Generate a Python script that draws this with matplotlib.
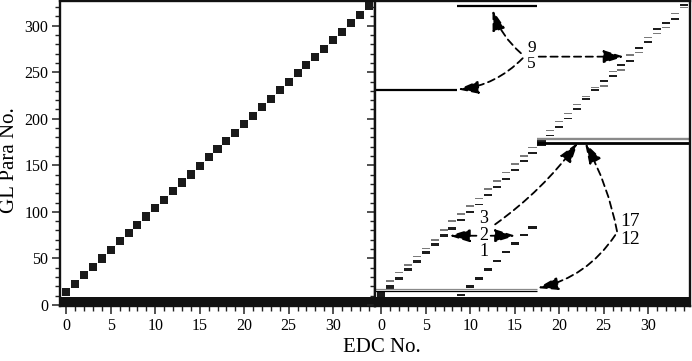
import matplotlib
matplotlib.use("Agg")
import matplotlib.pyplot as plt
from matplotlib.ticker import MultipleLocator
import numpy as np

plt.rcParams['font.family'] = ['Liberation Serif', 'DejaVu Serif']

# ---------------- data ----------------
edc_no = list(range(35))
# left panel: centre of each EDC's own GL-parameter block
left_block_centre = [13.5, 22.6, 31.9, 40.5, 49.8, 59.1, 68.4, 77.0, 85.6, 94.9,
                     104.2, 112.8, 122.1, 131.4, 140.0, 149.3, 158.6, 167.2, 176.5, 185.1,
                     194.4, 203.0, 212.3, 221.6, 230.9, 239.5, 248.8, 257.4, 266.7, 275.3,
                     284.6, 293.2, 302.5, 311.1, 321.2]
band_left = [0, 9]      # GL Para No. range used by every EDC (left)
band_right = [0, 8]     # same (right)

# right panel: staircase of paired parameters
stair_edc = [1, 2, 3, 4, 5, 6, 7, 8, 9, 10, 11, 12, 13, 14, 15, 16, 17,
             19, 20, 21, 22, 23, 24, 25, 26, 27, 28, 29, 30, 31, 32, 33, 34]
stair_dark = [19.2, 28.6, 37.6, 46.5, 56.2, 65.1, 74.9, 82.3, 91.3, 100.2, 107.8,
              117.6, 126.6, 135.6, 145.0, 154.2, 163.2,
              182.0, 191.5, 200.2, 210.5, 221.0, 231.0, 240.5, 246.0, 257.8, 262.0,
              275.7, 282.8, 296.0, 302.5, 307.0, 322.0]
stair_light = [25.8, 34.7, 43.0, 51.9, 60.5, 69.8, 80.6, 90.2, 97.6, 106.4, 114.6,
               124.3, 133.2, 142.5, 151.4, 160.0, 169.0,
               187.5, 197.0, 205.5, 215.0, 223.7, 233.5, 235.2, 250.6, 252.4, 268.5,
               271.4, 287.2, 291.5, 298.0, 313.0, 319.7]
# right panel: solid blocks
block_edc = [0, 18]
block_lo = [9.0, 171.0]
block_hi = [14.3, 179.0]
# right panel: series "1"
series1_edc = [9, 10, 11, 12, 13, 14, 15, 16, 17]
series1_para = [10.5, 19.5, 28.3, 38.0, 47.0, 56.8, 65.7, 75.0, 83.0]
# right panel: parameters shared by a range of EDCs
row_para = [15.0, 17.5, 174.0, 178.0, 230.5, 320.7]
row_first_edc = [0, 0, 18, 18, 0, 9]
row_last_edc = [17, 17, 34, 34, 8, 17]

y_ticks = [0, 50, 100, 150, 200, 250, 300]
x_ticks = [0, 5, 10, 15, 20, 25, 30]

# ---------------- style ----------------
row_colors = ['k', '#8a8a8a', 'k', '#8a8a8a', 'k', 'k']
row_lw = [0.9, 0.9, 2.0, 1.7, 1.6, 1.6]
XLIM = (-0.7, 34.7)
YLIM = (-1.2, 326.5)

W, H = 692, 361
fig = plt.figure(figsize=(W / 100, H / 100), dpi=100)
ax1 = fig.add_axes([60 / W, (H - 306) / H, 315 / W, 305 / H])
ax2 = fig.add_axes([375 / W, (H - 306) / H, 315 / W, 305 / H])

for ax in (ax1, ax2):
    ax.set_xlim(*XLIM)
    ax.set_ylim(*YLIM)
    ax.set_xticks(x_ticks)
    ax.set_yticks(y_ticks)
    ax.xaxis.set_minor_locator(MultipleLocator(1))
    ax.yaxis.set_minor_locator(MultipleLocator(10))
    ax.tick_params(which='major', direction='out', length=6, width=1.1,
                   labelsize=11.5, pad=2.5, color='#222')
    ax.tick_params(which='minor', direction='out', length=3.5, width=1.0, color='#222')
    for sp in ax.spines.values():
        sp.set_linewidth(1.7)
        sp.set_color('#111')
ax2.tick_params(axis='y', which='both', labelleft=False)

# ---- left panel ----
ax1.axhspan(band_left[0], band_left[1], color='#111', lw=0)
lc = np.array(left_block_centre)
ax1.bar(edc_no, 8.8, bottom=lc - 4.4, width=0.9, color='#1a1a1a', lw=0)

# ---- right panel ----
ax2.axhspan(band_right[0], band_right[1], color='#111', lw=0)
for y, s, e, c, lw in zip(row_para, row_first_edc, row_last_edc, row_colors, row_lw):
    x0 = s - 0.5 if s > 0 else s - 1.5
    x1 = e + 0.5 if e < 34 else e + 1.5
    ax2.hlines(y, x0, x1, colors=c, lw=lw)
bl = np.array(block_lo)
bh = np.array(block_hi)
ax2.bar(block_edc, bh - bl, bottom=bl, width=0.95, color='#1a1a1a', lw=0)
sx = np.array(stair_edc)
dark_h = np.where(sx <= 8, 3.4, 2.0)
ax2.bar(stair_edc, dark_h, bottom=np.array(stair_dark) - dark_h / 2, width=0.9,
        color='#1e1e1e', lw=0)
ax2.bar(stair_edc, 1.5, bottom=np.array(stair_light) - 0.75, width=0.9,
        color='#7a7a7a', lw=0)
ax2.bar(series1_edc, 2.8, bottom=np.array(series1_para) - 1.4, width=0.9,
        color='#1a1a1a', lw=0)


def darrow(start, tip, rad=0.0):
    ax2.annotate('', xy=tip, xytext=start,
                 arrowprops=dict(arrowstyle='-|>,head_length=0.9,head_width=0.28',
                                 mutation_scale=14, lw=1.3, ls=(0, (4, 2.5)),
                                 color='k', shrinkA=0, shrinkB=0,
                                 connectionstyle=f'arc3,rad={rad}'))


darrow((15.7, 270.4), (12.5, 317.0), -0.14)
darrow((15.9, 265.0), (8.6, 231.5), -0.18)
darrow((17.7, 266.7), (27.3, 266.7))
darrow((10.7, 74.3), (7.65, 74.3))
darrow((12.3, 74.3), (15.1, 74.3))
darrow((12.8, 86.5), (22.1, 174.5), 0.08)
darrow((26.5, 79.0), (22.9, 174.0), 0.08)
darrow((26.3, 75.0), (17.55, 18.0), -0.2)

tk = dict(ha='center', va='center', color='k')
ax2.text(16.9, 275.5, '9', fontsize=12.5, **tk)
ax2.text(16.9, 259.0, '5', fontsize=12.5, **tk)
ax2.text(11.5, 92.6, '3', fontsize=13, **tk)
ax2.text(11.5, 74.3, '2', fontsize=13, **tk)
ax2.text(11.5, 57.3, '1', fontsize=13, **tk)
ax2.text(28.0, 89.5, '17', fontsize=14, **tk)
ax2.text(28.0, 70.7, '12', fontsize=14, **tk)

fig.text(381.7 / W, 1 - 348 / H, 'EDC No.', fontsize=15, ha='center', va='center')
fig.text(10 / W, 1 - 160 / H, 'GL Para No.', fontsize=15, rotation=90,
         ha='center', va='center')

fig.savefig('out.png', dpi=100)
